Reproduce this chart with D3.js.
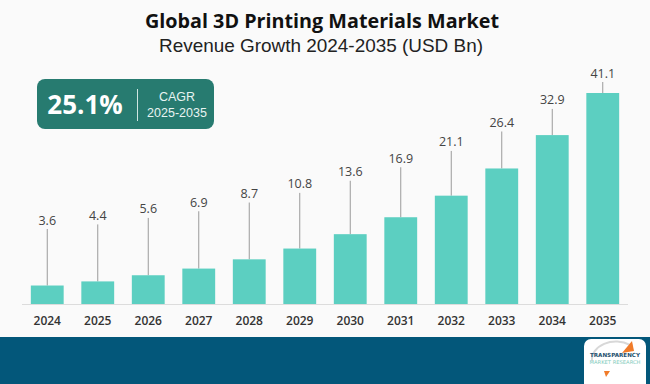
<!DOCTYPE html>
<html>
<head>
<meta charset="utf-8">
<script src="https://cdn.jsdelivr.net/npm/d3@7"></script>
<style>
  html, body { margin: 0; padding: 0; background: #fafafa; }
  svg { display: block; }
</style>
</head>
<body>
<div id="chart"></div>
<script>
const years = ["2024", "2025", "2026", "2027", "2028", "2029", "2030", "2031", "2032", "2033", "2034", "2035"];
const revenue = [3.6, 4.4, 5.6, 6.9, 8.7, 10.8, 13.6, 16.9, 21.1, 26.4, 32.9, 41.1];
const titleText = "Global 3D Printing Materials Market";
const subtitleText = "Revenue Growth 2024-2035 (USD Bn)";
const cagrValue = "25.1%";
const cagrLabel = ["CAGR", "2025-2035"];

const totalWidth = 650, totalHeight = 384;

const svg = d3
  .select("#chart")
  .append("svg")
  .attr("width", totalWidth)
  .attr("height", totalHeight);

svg.append("rect")
  .attr("width", totalWidth)
  .attr("height", totalHeight)
  .attr("fill", "#fafafa");

// titles
svg.append("text")
  .attr("x", 322)
  .attr("y", 28)
  .attr("text-anchor", "middle")
  .attr("font-family", "'Open Sans', sans-serif")
  .attr("font-weight", 700)
  .attr("font-size", 19.5)
  .attr("textLength", 354)
  .attr("lengthAdjust", "spacingAndGlyphs")
  .attr("fill", "#111")
  .text(titleText);

svg.append("text")
  .attr("x", 321)
  .attr("y", 52)
  .attr("text-anchor", "middle")
  .attr("font-family", "'Liberation Sans', sans-serif")
  .attr("font-size", 19)
  .attr("textLength", 324)
  .attr("lengthAdjust", "spacingAndGlyphs")
  .attr("fill", "#222")
  .text(subtitleText);

// scales
const x = d3
  .scaleBand()
  .domain(years)
  .range([22, 628])
  .paddingInner(0.35)
  .paddingOuter(0.175);

const y = d3
  .scaleLinear()
  .domain([0, d3.max(revenue)])
  .range([304, 93]);

// label heights follow a compressed scale
const yLabel = d3
  .scalePow()
  .exponent(0.75)
  .domain([d3.min(revenue), d3.max(revenue)])
  .range([220, 73]);

const data = years.map((yr, i) => ({ year: yr, value: revenue[i] }));

// leader lines
svg.append("g")
  .selectAll("line")
  .data(data)
  .join("line")
  .attr("x1", (d) => x(d.year) + x.bandwidth() / 2)
  .attr("x2", (d) => x(d.year) + x.bandwidth() / 2)
  .attr("y1", (d) => yLabel(d.value) + 9)
  .attr("y2", (d) => y(d.value))
  .attr("stroke", "#9a9a9a")
  .attr("stroke-width", 1);

// bars
svg.append("g")
  .selectAll("rect")
  .data(data)
  .join("rect")
  .attr("x", (d) => x(d.year))
  .attr("y", (d) => y(d.value))
  .attr("width", x.bandwidth())
  .attr("height", (d) => y(0) - y(d.value))
  .attr("fill", "#5ccfc1");

// value labels
svg.append("g")
  .selectAll("text")
  .data(data)
  .join("text")
  .attr("x", (d) => x(d.year) + x.bandwidth() / 2)
  .attr("y", (d) => yLabel(d.value) + 4.5)
  .attr("text-anchor", "middle")
  .attr("font-family", "'Open Sans', sans-serif")
  .attr("font-size", 12.5)
  .attr("fill", "#444")
  .text((d) => d.value.toFixed(1));

// x axis
const xAxis = svg.append("g")
  .attr("transform", "translate(0,304)")
  .call(d3.axisBottom(x).tickSize(0).tickPadding(12));
xAxis.select(".domain").attr("stroke", "#dcdcdc").attr("d", "M22,0.5H628");
xAxis.selectAll("text")
  .attr("font-family", "'Open Sans', sans-serif")
  .attr("font-weight", 600)
  .attr("font-size", 12)
  .attr("fill", "#333");

// CAGR box
const box = svg.append("g").attr("transform", "translate(37,79)");
box.append("rect")
  .attr("width", 177)
  .attr("height", 50)
  .attr("rx", 8)
  .attr("fill", "#277b70");
box.append("text")
  .attr("x", 48)
  .attr("y", 35)
  .attr("text-anchor", "middle")
  .attr("font-family", "'Open Sans', sans-serif")
  .attr("font-weight", 700)
  .attr("font-size", 26)
  .attr("fill", "#fff")
  .text(cagrValue);
box.append("line")
  .attr("x1", 100.5).attr("x2", 100.5)
  .attr("y1", 10).attr("y2", 42)
  .attr("stroke", "#cfe6e2")
  .attr("stroke-width", 1);
box.selectAll(".cagr-lbl")
  .data(cagrLabel)
  .join("text")
  .attr("class", "cagr-lbl")
  .attr("x", 140)
  .attr("y", (d, i) => 22 + i * 16)
  .attr("text-anchor", "middle")
  .attr("font-family", "'Liberation Sans', sans-serif")
  .attr("font-size", 12.5)
  .attr("fill", "#e8f4f2")
  .text((d) => d);

// footer band
svg.append("rect")
  .attr("x", 0)
  .attr("y", 337)
  .attr("width", totalWidth)
  .attr("height", totalHeight - 337)
  .attr("fill", "#03577a");

// logo
const logo = svg.append("g").attr("transform", "translate(584,339)");
logo.append("rect")
  .attr("width", 62)
  .attr("height", 52)
  .attr("rx", 7)
  .attr("fill", "#fff");
logo.append("path")
  .attr("d", "M8,22 A24,18 0 0 1 46,6")
  .attr("fill", "none")
  .attr("stroke", "#d8d8d8")
  .attr("stroke-width", 2);
logo.append("path")
  .attr("d", "M38,14 L48,2 L50,12 Z")
  .attr("fill", "#f07b2a");
logo.append("path")
  .attr("d", "M22,38 L20,32 L26,32 Z")
  .attr("fill", "#f07b2a");
logo.append("text")
  .attr("x", 31).attr("y", 18)
  .attr("text-anchor", "middle")
  .attr("font-family", "'DejaVu Sans', sans-serif")
  .attr("font-weight", 700)
  .attr("font-size", 5.6)
  .attr("fill", "#1d4f6e")
  .text("TRANSPARENCY");
logo.append("text")
  .attr("x", 31).attr("y", 25)
  .attr("text-anchor", "middle")
  .attr("font-family", "'DejaVu Sans', sans-serif")
  .attr("font-size", 5.2)
  .attr("fill", "#7fcbbb")
  .text("MARKET RESEARCH");
</script>
</body>
</html>
